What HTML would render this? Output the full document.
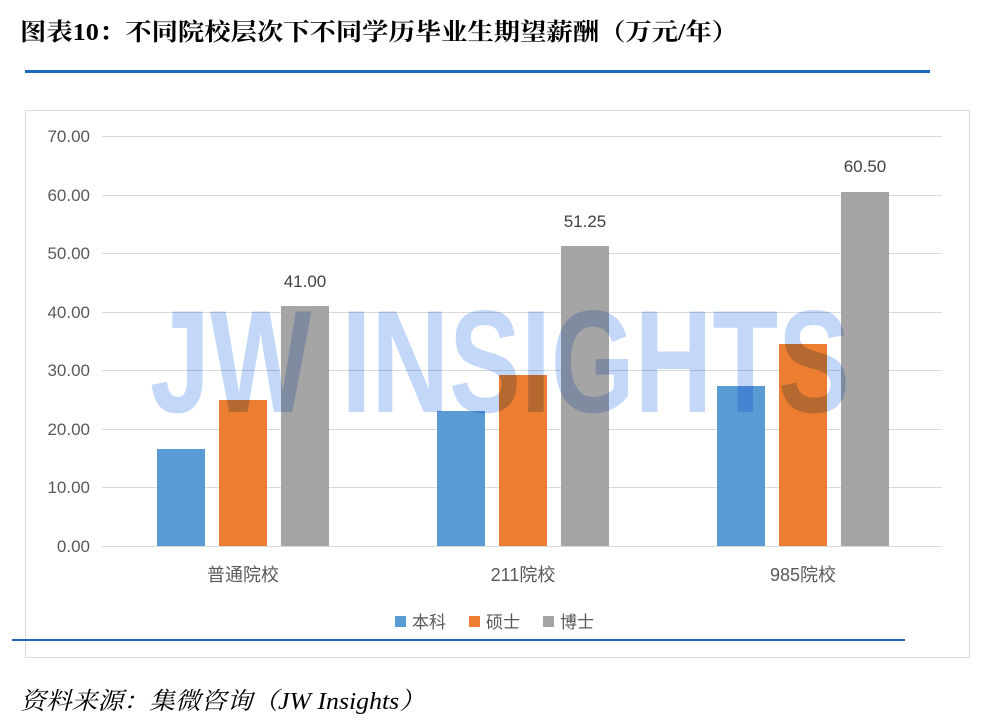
<!DOCTYPE html>
<html><head><meta charset="utf-8"><style>
body{margin:0;width:1000px;height:728px;background:#fff;overflow:hidden;position:relative;font-family:"Liberation Sans","Noto Sans CJK SC",sans-serif}
</style></head><body>
<svg width="1000" height="728" style="position:absolute;left:0;top:0" font-family="Liberation Sans, Noto Sans CJK SC, sans-serif">
<text x="20" y="40" font-size="24" font-weight="bold" font-family="Liberation Serif, Noto Serif CJK SC, serif" fill="#000" textLength="718" lengthAdjust="spacingAndGlyphs">图表10：不同院校层次下不同学历毕业生期望薪酬（万元/年）</text>
<rect x="25" y="70" width="905" height="3" fill="#1f68c0"/>
<rect x="25.5" y="110.5" width="944" height="547" fill="none" stroke="#d9d9d9"/>
<g stroke="#d9d9d9" stroke-width="1">
<line x1="102" x2="942" y1="136.5" y2="136.5"/><line x1="102" x2="942" y1="195.5" y2="195.5"/>
<line x1="102" x2="942" y1="253.5" y2="253.5"/><line x1="102" x2="942" y1="312.5" y2="312.5"/>
<line x1="102" x2="942" y1="370.5" y2="370.5"/><line x1="102" x2="942" y1="429.5" y2="429.5"/>
<line x1="102" x2="942" y1="487.5" y2="487.5"/><line x1="102" x2="942" y1="546.5" y2="546.5"/>
</g>
<g font-size="17" fill="#595959" text-anchor="end">
<text x="90" y="142">70.00</text><text x="90" y="201">60.00</text><text x="90" y="259">50.00</text>
<text x="90" y="318">40.00</text><text x="90" y="376">30.00</text><text x="90" y="435">20.00</text>
<text x="90" y="493">10.00</text><text x="90" y="552">0.00</text>
</g>
<g>
<rect x="157" y="449" width="48" height="97" fill="#5b9bd5"/>
<rect x="219" y="400" width="48" height="146" fill="#ed7d31"/>
<rect x="281" y="306" width="48" height="240" fill="#a5a5a5"/>
<rect x="437" y="411" width="48" height="135" fill="#5b9bd5"/>
<rect x="499" y="375" width="48" height="171" fill="#ed7d31"/>
<rect x="561" y="246" width="48" height="300" fill="#a5a5a5"/>
<rect x="717" y="386" width="48" height="160" fill="#5b9bd5"/>
<rect x="779" y="344" width="48" height="202" fill="#ed7d31"/>
<rect x="841" y="192" width="48" height="354" fill="#a5a5a5"/>
</g>
<g font-size="17" fill="#404040" text-anchor="middle">
<text x="305" y="287">41.00</text><text x="585" y="227">51.25</text><text x="865" y="172">60.50</text>
</g>
<text x="150" y="412" font-size="146" font-weight="bold" fill="#7aa6f2" fill-opacity="0.45" textLength="700" lengthAdjust="spacingAndGlyphs" style="mix-blend-mode:multiply">JW INSIGHTS</text>
<g font-size="18" fill="#595959" text-anchor="middle">
<text x="243" y="581">普通院校</text><text x="523" y="581">211院校</text><text x="803" y="581">985院校</text>
</g>
<g font-size="17" fill="#595959">
<rect x="395" y="616" width="11" height="11" fill="#5b9bd5"/><text x="412" y="628">本科</text>
<rect x="469" y="616" width="11" height="11" fill="#ed7d31"/><text x="486" y="628">硕士</text>
<rect x="543" y="616" width="11" height="11" fill="#a5a5a5"/><text x="560" y="628">博士</text>
</g>
<rect x="12" y="639" width="893" height="2" fill="#1f68c0"/>
<text x="20" y="709" font-size="24" font-style="italic" font-family="Liberation Serif, Noto Serif CJK SC, serif" fill="#000" textLength="405" lengthAdjust="spacingAndGlyphs">资料来源：集微咨询（JW Insights）</text>
</svg>
</body></html>
